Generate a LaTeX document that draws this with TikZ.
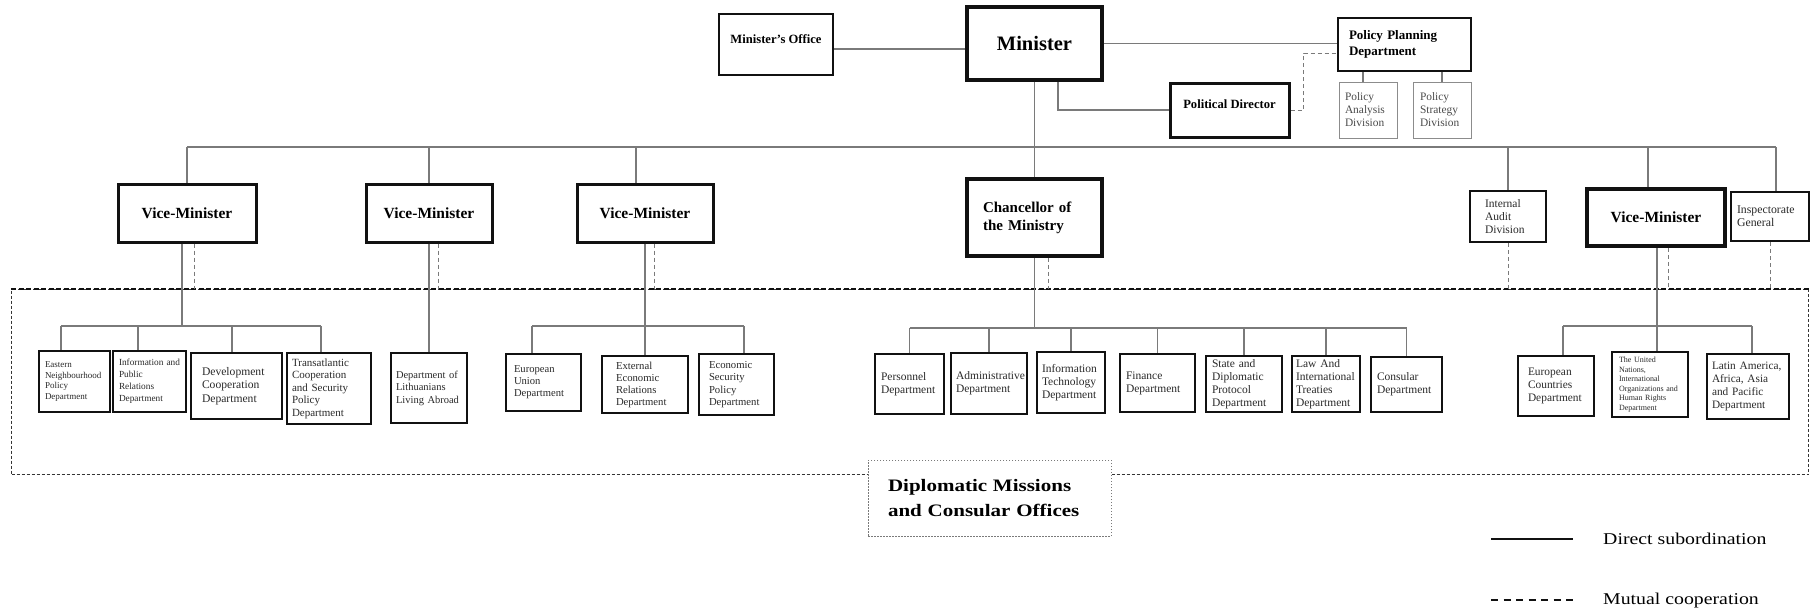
\documentclass[tikz,border=0pt]{standalone}
\usepackage{fontspec}
\setmainfont{Liberation Serif}
\newfontfamily\widefont[FakeStretch=1.2]{Liberation Serif}
\usepackage{tikz}
\usepackage{xcolor}
\usetikzlibrary{positioning,calc}
\definecolor{ink}{HTML}{111111}
\definecolor{deptink}{HTML}{2A2A2A}
\definecolor{wire}{HTML}{7A7A7A}
\definecolor{divgray}{HTML}{8C8C8C}
\newcommand{\fsz}[2]{\fontsize{#1}{#2}\selectfont}
\tikzset{
  headbox/.style={draw=ink,line width=3pt,fill=white,inner sep=0pt,
                  align=center,font=\bfseries\fsz{15.5}{18}},
  deptbox/.style={draw=ink,line width=2.4pt,fill=white,inner sep=0pt,
                  align=left,text=deptink,font=\fsz{11.4}{13.3}},
  divbox/.style={draw=divgray,line width=0.9pt,inner sep=0pt,
                 align=left,text=deptink!85,font=\fsz{11.4}{13}},
  sub/.style={draw=wire,line width=1.2pt},
  coop/.style={draw=wire,line width=1pt,dash pattern=on 4pt off 3pt},
  frameline/.style={draw=ink!85,line width=1pt,dash pattern=on 3pt off 2pt},
  frametop/.style={draw=ink,line width=2pt,dash pattern=on 5pt off 2.5pt},
  missionbox/.style={draw=wire,line width=0.8pt,dash pattern=on 1.5pt off 1.5pt,
                     fill=white,inner sep=0pt,align=left},
  legendtxt/.style={inner sep=0pt,font=\widefont\fsz{16.5}{20}}
}

\begin{document}
\begin{tikzpicture}[x=1pt,y=-1pt]
  \useasboundingbox (0,0) rectangle (1813,608);

  % frame of the missions
  \node[frameline,inner sep=0pt,minimum width=1797,minimum height=185,anchor=north west] (frame) at (11,289) {};
  \draw[frametop] (frame.north west) -- (frame.north east);
  \node[missionbox,minimum width=243,minimum height=76,text width=203pt,
        font=\widefont\bfseries\fsz{17.5}{25}] (missions) at (989.5,498)
    {Diplomatic Missions\\and Consular Offices};

  % top level
  \node[headbox,line width=3.5pt,minimum width=135,minimum height=73,font=\bfseries\fsz{20.5}{24}] (minister) at (1034.5,43.5) {Minister};
  \node[headbox,line width=2.2pt,minimum width=114,minimum height=61] (moffice) at (776,44.5) {};
  \node[font=\bfseries\fsz{12.6}{15}] (moffice-t) at ([yshift=5.5pt]moffice.center) {Minister's Office};
  \node[headbox,line width=3pt,minimum width=119,minimum height=54] (polit) at (1229.5,110) {};
  \node[font=\bfseries\fsz{12.6}{15}] (polit-t) at ([yshift=6pt]polit.center) {Political Director};
  \node[headbox,line width=2.5pt,minimum width=133,minimum height=53,text width=111pt,
        align=left,font=\bfseries\fsz{13}{16}] (ppd) at (1404.5,44.5) {Policy Planning\\Department};
  \node[divbox,minimum width=58,minimum height=56,text width=46pt] (pad) at (1368,110) {Policy\\Analysis\\Division};
  \node[divbox,minimum width=58,minimum height=56,text width=44pt] (psd) at (1442,110) {Policy\\Strategy\\Division};

  % second level
  \node[headbox,minimum width=138,minimum height=58] (vm1) at (187,213) {Vice-Minister};
  \node[headbox,minimum width=126,minimum height=58] (vm2) at (429,213) {Vice-Minister};
  \node[headbox,minimum width=136,minimum height=58] (vm3) at (645,213) {Vice-Minister};
  \node[headbox,line width=3.5pt,minimum width=135,minimum height=77,text width=103pt,
        align=left,font=\bfseries\fsz{15}{18}] (chanc) at (1034.5,217.5) {Chancellor of\\the Ministry\\[-8pt]};
  \node[deptbox,minimum width=76,minimum height=51,text width=46pt,font=\fsz{11.5}{13}] (ia) at (1508,216.5) {Internal\\Audit\\Division};
  \node[headbox,line width=3.5pt,minimum width=138,minimum height=57] (vm4) at (1656,217.5) {Vice-Minister};
  \node[deptbox,minimum width=78,minimum height=49,text width=66pt,font=\fsz{11.8}{12.8}] (insp) at (1770,216.5) {Inspectorate\\General};

  % departments
  \node[deptbox,minimum width=71,minimum height=61,text width=59pt,font=\fsz{9}{10.7}] (east) at (74.5,381.5) {Eastern\\Neighbourhood\\Policy\\Department};
  \node[deptbox,minimum width=73,minimum height=61,text width=61pt,font=\fsz{9.3}{12}] (info) at (149.5,381.5) {Information and\\Public\\Relations\\Department};
  \node[deptbox,minimum width=91,minimum height=66,text width=69pt,font=\fsz{11.6}{13.3}] (dev) at (236.5,386) {Development\\Cooperation\\Department};
  \node[deptbox,minimum width=84,minimum height=71,text width=74pt,font=\fsz{11}{12.5}] (trans) at (329,388.5) {Transatlantic\\Cooperation\\and Security\\Policy\\Department};
  \node[deptbox,minimum width=76,minimum height=70,text width=66pt,font=\fsz{10.5}{12.5}] (lith) at (429,388) {Department of\\Lithuanians\\Living Abroad\\[-6pt]};
  \node[deptbox,minimum width=75,minimum height=57,text width=59pt,font=\fsz{10.6}{12}] (eu) at (543.5,382.5) {European\\Union\\Department};
  \node[deptbox,minimum width=86,minimum height=57,text width=58pt,font=\fsz{10.7}{12}] (eer) at (645,384.5) {External\\Economic\\Relations\\Department};
  \node[deptbox,minimum width=75,minimum height=61,text width=55pt,font=\fsz{10.7}{12.3}] (esp) at (736.5,384.5) {Economic\\Security\\Policy\\Department};
  \node[deptbox,minimum width=69,minimum height=60,text width=57pt,font=\fsz{11.5}{13}] (pers) at (909.5,384) {Personnel\\Department};
  \node[deptbox,minimum width=76,minimum height=61,text width=66pt,font=\fsz{11.5}{13}] (admin) at (989,383.5) {Administrative\\Department};
  \node[deptbox,minimum width=68,minimum height=61,text width=58pt,font=\fsz{11.5}{13}] (it) at (1071,382.5) {Information\\Technology\\Department};
  \node[deptbox,minimum width=75,minimum height=58,text width=63pt,font=\fsz{11.5}{13}] (fin) at (1157.5,383) {Finance\\Department};
  \node[deptbox,minimum width=76,minimum height=56,text width=64pt,font=\fsz{11.5}{13}] (state) at (1244,384) {State and\\Diplomatic\\Protocol\\Department};
  \node[deptbox,minimum width=68,minimum height=56,text width=60pt,font=\fsz{11.5}{13}] (law) at (1326,384) {Law And\\International\\Treaties\\Department};
  \node[deptbox,minimum width=71,minimum height=55,text width=59pt,font=\fsz{11.5}{13}] (cons) at (1406.5,384.5) {Consular\\Department};
  \node[deptbox,minimum width=76,minimum height=60,text width=56pt,font=\fsz{11.4}{13.3}] (eur) at (1556,386) {European\\Countries\\Department};
  \node[deptbox,minimum width=76,minimum height=65,text width=62pt,font=\fsz{8}{9.6}] (un) at (1650,384.5) {The United\\Nations,\\International\\Organizations and\\Human Rights\\Department};
  \node[deptbox,minimum width=82,minimum height=65,text width=72pt,font=\fsz{11.3}{13.3}] (laap) at (1748,386.5) {Latin America,\\Africa, Asia\\and Pacific\\Department};

  % minister's links
  \draw[sub] ([yshift=-4.5pt]moffice.east) -- ([yshift=-4.5pt]moffice.east -| minister.west);
  \draw[sub] (minister.east) -- (minister.east -| ppd.west);
  \draw[sub] ([xshift=23.5pt]minister.south) |- (polit.west);
  \draw[coop] (polit.east) -- ++(13,0) |- ([yshift=-8.5pt]ppd.west);
  \draw[sub] ([xshift=-5pt]pad.north) -- ([xshift=-5pt]pad.north |- ppd.south);
  \draw[sub] (psd.north) -- (psd.north |- ppd.south);
  \draw[sub] (minister.south) -- (chanc.north);

  % main bus
  \coordinate (bus) at (0,147);
  \draw[sub] (vm1.north |- bus) -- ([xshift=6pt]insp.north |- bus);
  \foreach \n/\dx in {vm1/0,vm2/0,vm3/-9,ia/0,vm4/-8,insp/6}
    \draw[sub] ([xshift=\dx pt]\n.north) -- ([xshift=\dx pt]\n.north |- bus);

  % cooperation with the missions
  \foreach \n/\dx in {vm1/7,vm2/9,vm3/9,chanc/13.5,ia/0,vm4/12,insp/0}
    \draw[coop] ([xshift=\dx pt]\n.south) -- ([xshift=\dx pt]\n.south |- frame.north);

  % departments under each head
  \coordinate (b1) at (0,326);
  \coordinate (b2) at (0,328);
  \draw[sub] ([xshift=-5pt]vm1.south) -- ([xshift=-5pt]vm1.south |- b1);
  \draw[sub] ([xshift=-13.5pt]east.north |- b1) -- ([xshift=-8pt]trans.north |- b1);
  \foreach \n/\dx in {east/-13.5,info/-11.5,dev/-4.5,trans/-8}
    \draw[sub] ([xshift=\dx pt]\n.north) -- ([xshift=\dx pt]\n.north |- b1);

  \draw[sub] (vm2.south) -- (lith.north);

  \draw[sub] (vm3.south) -- (eer.north);
  \draw[sub] ([xshift=-11.5pt]eu.north |- b1) -- ([xshift=7.5pt]esp.north |- b1);
  \foreach \n/\dx in {eu/-11.5,esp/7.5}
    \draw[sub] ([xshift=\dx pt]\n.north) -- ([xshift=\dx pt]\n.north |- b1);

  \draw[sub] (chanc.south) -- (chanc.south |- b2);
  \draw[sub] (pers.north |- b2) -- (cons.north |- b2);
  \foreach \n in {pers,admin,it,fin,state,law,cons}
    \draw[sub] (\n.north) -- (\n.north |- b2);

  \draw[sub] ([xshift=1pt]vm4.south) -- ([xshift=1pt]vm4.south |- un.north);
  \draw[sub] ([xshift=7pt]eur.north |- b1) -- ([xshift=4pt]laap.north |- b1);
  \foreach \n/\dx in {eur/7,laap/4}
    \draw[sub] ([xshift=\dx pt]\n.north) -- ([xshift=\dx pt]\n.north |- b1);

  % legend
  \node[legendtxt,anchor=base west] (lgsub) at (1603,544) {Direct subordination};
  \node[legendtxt,anchor=base west] (lgcoop) at (1603,604) {Mutual cooperation};
  \draw[ink,line width=2pt] ([xshift=-112pt,yshift=5pt]lgsub.base west) -- ([xshift=-30pt,yshift=5pt]lgsub.base west);
  \draw[ink,line width=2pt,dash pattern=on 7pt off 5.5pt] ([xshift=-112pt,yshift=4pt]lgcoop.base west) -- ([xshift=-30pt,yshift=4pt]lgcoop.base west);
\end{tikzpicture}
\end{document}
